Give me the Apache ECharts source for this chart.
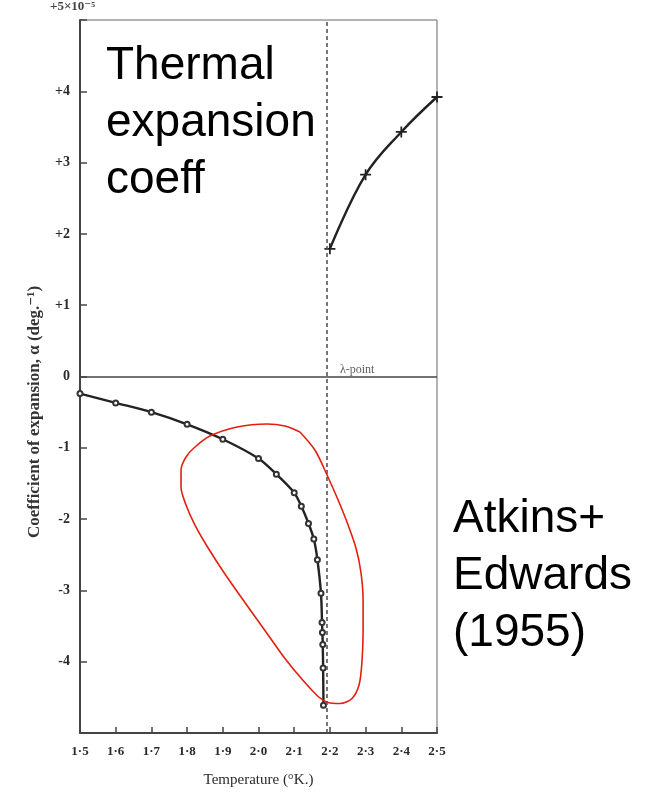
<!DOCTYPE html>
<html>
<head>
<meta charset="utf-8">
<script src="https://cdn.jsdelivr.net/npm/echarts@6/dist/echarts.min.js"></script>
<style>
html,body{margin:0;padding:0;background:#fff;}
#chart{width:658px;height:794px;}
</style>
</head>
<body>
<div id="chart"></div>
<script>
// Temperature (°K) ticks
const xTicks = [1.5,1.6,1.7,1.8,1.9,2.0,2.1,2.2,2.3,2.4,2.5];
const yTicks = [-4,-3,-2,-1,0,1,2,3,4];
// Below lambda point (circles): [T, alpha x1e-5]
const belowT = [1.5,1.6,1.7,1.8,1.9,2.0,2.05,2.1,2.12,2.14,2.155,2.165,2.175,2.178,2.179,2.18,2.181,2.182];
const belowA = [-0.24,-0.37,-0.50,-0.67,-0.88,-1.15,-1.37,-1.63,-1.82,-2.06,-2.28,-2.57,-3.04,-3.45,-3.59,-3.76,-4.09,-4.61];
// Above lambda point (crosses)
const aboveT = [2.2,2.3,2.4,2.5];
const aboveA = [1.79,2.83,3.43,3.92];
// lambda point
const lambdaT = 2.186;
// Red hand-drawn loop (annotation), in data coordinates
const loopT = [2.116,2.158,2.192,2.223,2.251,2.273,2.287,2.293,2.293,2.290,2.282,2.262,2.228,2.195,2.167,2.125,2.074,2.032,1.962,1.906,1.859,1.822,1.797,1.783,1.783,1.797,1.822,1.864,1.940,2.024,2.074,2.116];
const loopA = [-0.778,-1.031,-1.381,-1.732,-2.083,-2.405,-2.749,-3.141,-3.562,-3.983,-4.320,-4.516,-4.586,-4.572,-4.488,-4.264,-3.955,-3.661,-3.170,-2.770,-2.405,-2.083,-1.802,-1.550,-1.311,-1.129,-0.989,-0.835,-0.708,-0.666,-0.694,-0.778];

const serif = '"Liberation Serif","DejaVu Serif",serif';
const sans = '"Liberation Sans",Arial,sans-serif';
const ink = '#2a2a2a';

const chart = echarts.init(document.getElementById('chart'), null, {renderer:'canvas'});
const cross = 'path://M4.2,0H5.8V4.2H10V5.8H5.8V10H4.2V5.8H0V4.2H4.2Z';

const option = {
  animation:false,
  backgroundColor:'#fff',
  grid:{left:80,right:221,top:20,bottom:61,show:true,borderColor:'#666',borderWidth:1,backgroundColor:'transparent'},
  xAxis:{
    type:'value',min:1.5,max:2.5,interval:0.1,
    axisLine:{onZero:false,lineStyle:{color:'#444',width:2}},
    axisTick:{inside:true,length:6,lineStyle:{color:'#444',width:1.5}},
    splitLine:{show:false},
    axisLabel:{margin:12,fontFamily:serif,fontSize:13,fontWeight:'bold',color:ink,
      formatter:v=>v.toFixed(1).replace('.','·')},
    name:'Temperature (°K.)',nameLocation:'middle',nameGap:40,
    nameTextStyle:{fontFamily:serif,fontSize:15,color:ink}
  },
  yAxis:{
    type:'value',min:-5,max:5,interval:1,
    axisLine:{onZero:false,lineStyle:{color:'#444',width:2}},
    axisTick:{inside:true,length:7,lineStyle:{color:'#444',width:1.5}},
    splitLine:{show:false},
    axisLabel:{margin:10,fontFamily:serif,fontSize:14,fontWeight:'bold',color:ink,
      formatter:v=>{ if(yTicks.indexOf(v)<0) return ''; return v>0?('+'+v):String(v);} }
  },
  graphic:[
    {type:'text',left:50,top:0,style:{text:'+5×10⁻⁵',font:'bold 13px '+serif,fill:'#444'}},
    {type:'text',x:35,y:538,rotation:Math.PI/2,style:{text:'Coefficient of expansion, α (deg.⁻¹)',font:'bold 17px '+serif,fill:'#333',textAlign:'left',textVerticalAlign:'middle'}},
    {type:'text',left:106,top:38,style:{text:'Thermal\nexpansion\ncoeff',font:'46px '+sans,fill:'#000',lineHeight:57}},
    {type:'text',left:453,top:491,style:{text:'Atkins+\nEdwards\n(1955)',font:'46px '+sans,fill:'#000',lineHeight:57}}
  ],
  series:[
    {
      type:'line',data:loopT.map((t,i)=>[t,loopA[i]]),smooth:0.3,symbol:'none',
      lineStyle:{color:'#e3200f',width:1.6},z:5,silent:true
    },
    {
      type:'line',data:belowT.map((t,i)=>[t,belowA[i]]),smooth:0.3,
      symbol:'emptyCircle',symbolSize:5,showAllSymbol:true,
      itemStyle:{color:'#333',borderWidth:1},
      lineStyle:{color:'#222',width:2.4},z:3,
      markLine:{
        symbol:'none',silent:true,label:{show:false},
        data:[
          {yAxis:0,lineStyle:{color:'#444',width:1.6,type:'solid'}},
          {xAxis:lambdaT,lineStyle:{color:'#555',width:1.6,type:[4,3]}}
        ]
      }
    },
    {
      type:'line',data:aboveT.map((t,i)=>[t,aboveA[i]]),smooth:0.4,
      symbol:cross,symbolSize:11,
      itemStyle:{color:'#222'},
      lineStyle:{color:'#222',width:2.4},z:3
    },
    {
      type:'scatter',data:[[lambdaT,0]],symbolSize:0,silent:true,
      label:{show:true,formatter:'λ-point',position:'insideTopLeft',offset:[10,-18],
        fontFamily:serif,fontSize:12,color:'#333'}
    }
  ]
};
chart.setOption(option);
</script>
</body>
</html>
